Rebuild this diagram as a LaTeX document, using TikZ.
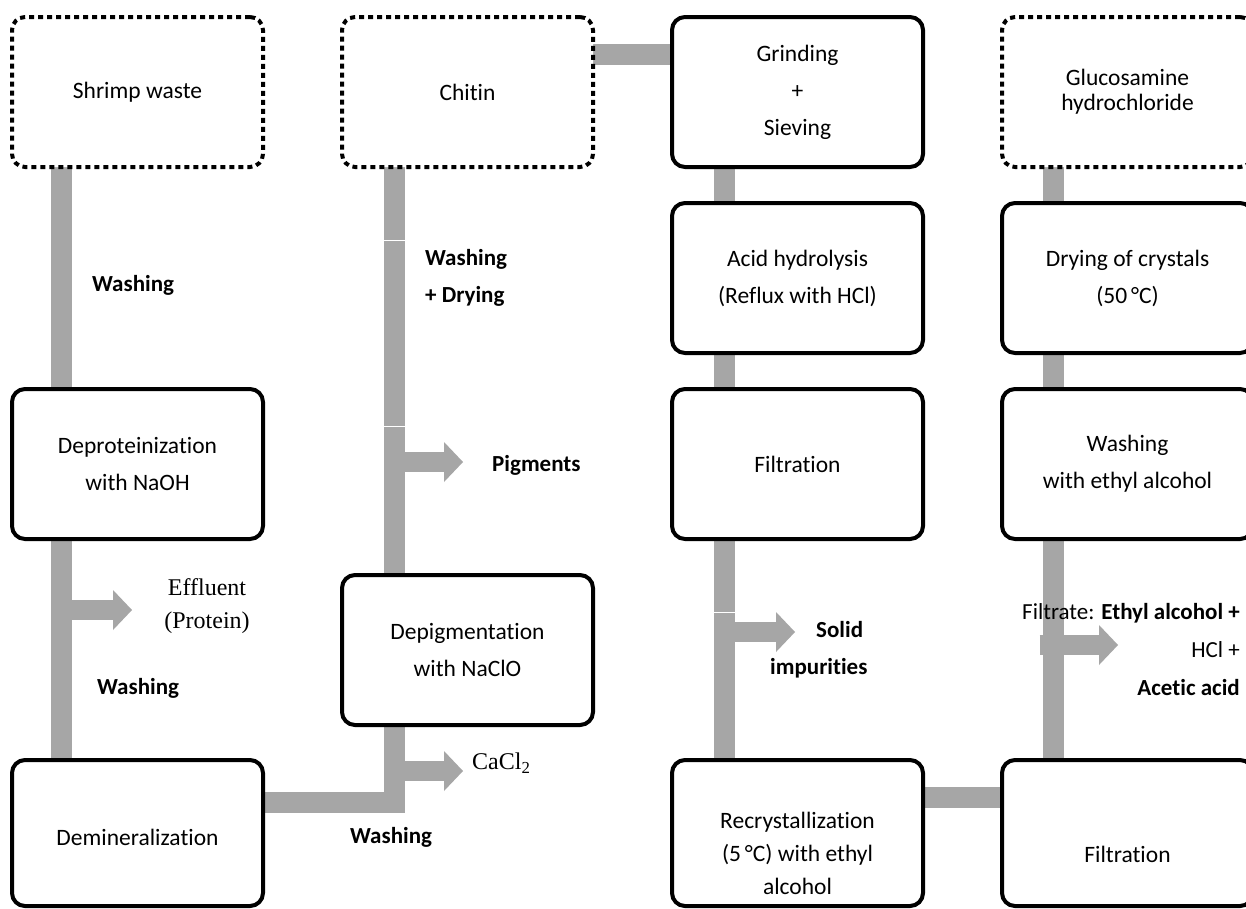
\documentclass[tikz,border=0pt]{standalone}
\usepackage{fontspec}
\setmainfont{Carlito}[Ligatures=NoCommon]
\newfontfamily\serifrm{Liberation Serif}
\usetikzlibrary{arrows.meta,backgrounds,calc}
\definecolor{pipegray}{HTML}{A6A6A6}
\begin{document}
\begin{tikzpicture}[x=1pt,y=-1pt,
  box/.style={draw, line width=4pt, rounded corners=13pt, minimum width=251pt,
    minimum height=150pt, inner sep=0pt, outer sep=0pt, align=center, fill=white,
    font=\fontsize{23.5}{37}\selectfont},
  dotbox/.style={box, dash pattern=on 5pt off 4pt},
  pipe/.style={draw=pipegray, line width=21pt},
  outlet/.style={draw=pipegray, line width=20pt,
    -{Triangle[length=19pt,width=40pt,line width=0pt]}},
  note/.style={font=\bfseries\fontsize{23}{37}\selectfont, inner sep=0pt, align=left},
  sidenote/.style={font=\serifrm\fontsize{24}{33}\selectfont, inner sep=0pt, align=center},
  seam/.style={draw=white, line width=1pt}]
\useasboundingbox (0,0) rectangle (1246,908);
\clip (0,0) rectangle (1246,908);

% process steps
\node[dotbox] (shrimp) at (137.5,92) {Shrimp waste};
\node[dotbox] (chitin) at (467.5,92) {Chitin};
\node[box] (grind) at (797.5,92) {Grinding\\+\\Sieving};
\node[dotbox, font=\fontsize{23.5}{25}\selectfont] (gluc) at (1127.5,92) {Glucosamine\\hydrochloride};
\node[box] (acid) at (797.5,278) {Acid hydrolysis\\(Reflux with HCl)};
\node[box] (dry) at (1127.5,278) {Drying of crystals\\(50\,°C)};
\node[box] (deprot) at (137.5,464) {Deproteinization\\with NaOH};
\node[box] (filt1) at (797.5,464) {Filtration};
\node[box] (wash) at (1127.5,464) {Washing\\with ethyl alcohol};
\node[box] (depig) at (467.5,650) {Depigmentation\\with NaClO};
\node[box, minimum height=146pt] (demin) at (137.5,833) {\rule{0pt}{25pt}Demineralization};
\node[box, minimum height=146pt, font=\fontsize{23.5}{33}\selectfont] (recryst) at (797.5,833)
  {\rule{0pt}{58pt}Recrystallization\\(5\,°C) with ethyl\\alcohol};
\node[box, minimum height=146pt] (filt2) at (1127.5,833) {\rule{0pt}{60pt}Filtration};

% pipe columns and rows
\coordinate (c1) at (61.5,0);
\coordinate (c2) at (394,0);
\coordinate (c3) at (724,0);
\coordinate (c4) at (1053.5,0);
\coordinate (yg) at (0,54);
\coordinate (yd) at (0,802);
\coordinate (yr) at (0,797);

\begin{scope}[on background layer]
  \fill[white] (0,0) rectangle (1246,908);
  \draw[pipe] (shrimp.south -| c1) -- (deprot.north -| c1);
  \draw[pipe] (deprot.south -| c1) -- (demin.north -| c1);
  \draw[pipe] (demin.east |- yd) -- (c2 |- yd) -- (depig.south -| c2);
  \draw[pipe] (chitin.south -| c2) -- (depig.north -| c2);
  \draw[pipe] (chitin.east |- yg) -- (grind.west |- yg);
  \draw[pipe] (grind.south -| c3) -- (acid.north -| c3);
  \draw[pipe] (acid.south -| c3) -- (filt1.north -| c3);
  \draw[pipe] (filt1.south -| c3) -- (recryst.north -| c3);
  \draw[pipe] (recryst.east |- yr) -- (filt2.west |- yr);
  \draw[pipe] (gluc.south -| c4) -- (dry.north -| c4);
  \draw[pipe] (dry.south -| c4) -- (wash.north -| c4);
  \draw[pipe] (wash.south -| c4) -- (filt2.north -| c4);
\end{scope}

% joints between pipe pieces
\coordinate (s1) at (0,240);
\coordinate (s2) at (0,426);
\coordinate (s3) at (0,612);
\draw[seam] ($(c2 |- s1)+(-10.5,0)$) -- ++(21,0);
\draw[seam] ($(c2 |- s2)+(-10.5,0)$) -- ++(21,0);
\draw[seam] ($(c3 |- s3)+(-10.5,0)$) -- ++(21,0);

% side outlets
\coordinate (tipE) at (132,610);
\coordinate (tipP) at (463,462);
\coordinate (tipC) at (463,771);
\coordinate (tipS) at (795,632);
\coordinate (tipF) at (1118,645);
\draw[outlet] ($(c1 |- tipE)+(-9,0)$) -- (tipE);
\draw[outlet] ($(c2 |- tipP)+(-9,0)$) -- (tipP);
\draw[outlet] ($(c2 |- tipC)+(-9,0)$) -- (tipC);
\draw[outlet] ($(c3 |- tipS)+(-9,0)$) -- (tipS);
\draw[outlet] ($(c4 |- tipF)+(-14,0)$) -- (tipF);

% labels
\node[note, anchor=west] (w1) at (92,285) {Washing};
\node[sidenote] (eff) at (207,606) {Effluent\\(Protein)};
\node[note, anchor=west] (w2) at (97,688) {Washing};
\node[note, anchor=west] (wd) at (425,278) {Washing\\+ Drying};
\node[note, anchor=west] (pig) at (492,465) {Pigments};
\node[sidenote, anchor=west] (ca) at (472,763) {CaCl\textsubscript{2}};
\node[note, anchor=west] (w3) at (350,837) {Washing};
\node[note, anchor=west] (solid) at (770,650) {\hspace*{46pt}Solid\\impurities};
\node[font=\fontsize{23}{38}\selectfont, inner sep=0pt, align=right, anchor=east] (filtr)
  at (1240,650) {Filtrate: \textbf{Ethyl alcohol +}\\HCl +\\\textbf{Acetic acid}};
\end{tikzpicture}
\end{document}
